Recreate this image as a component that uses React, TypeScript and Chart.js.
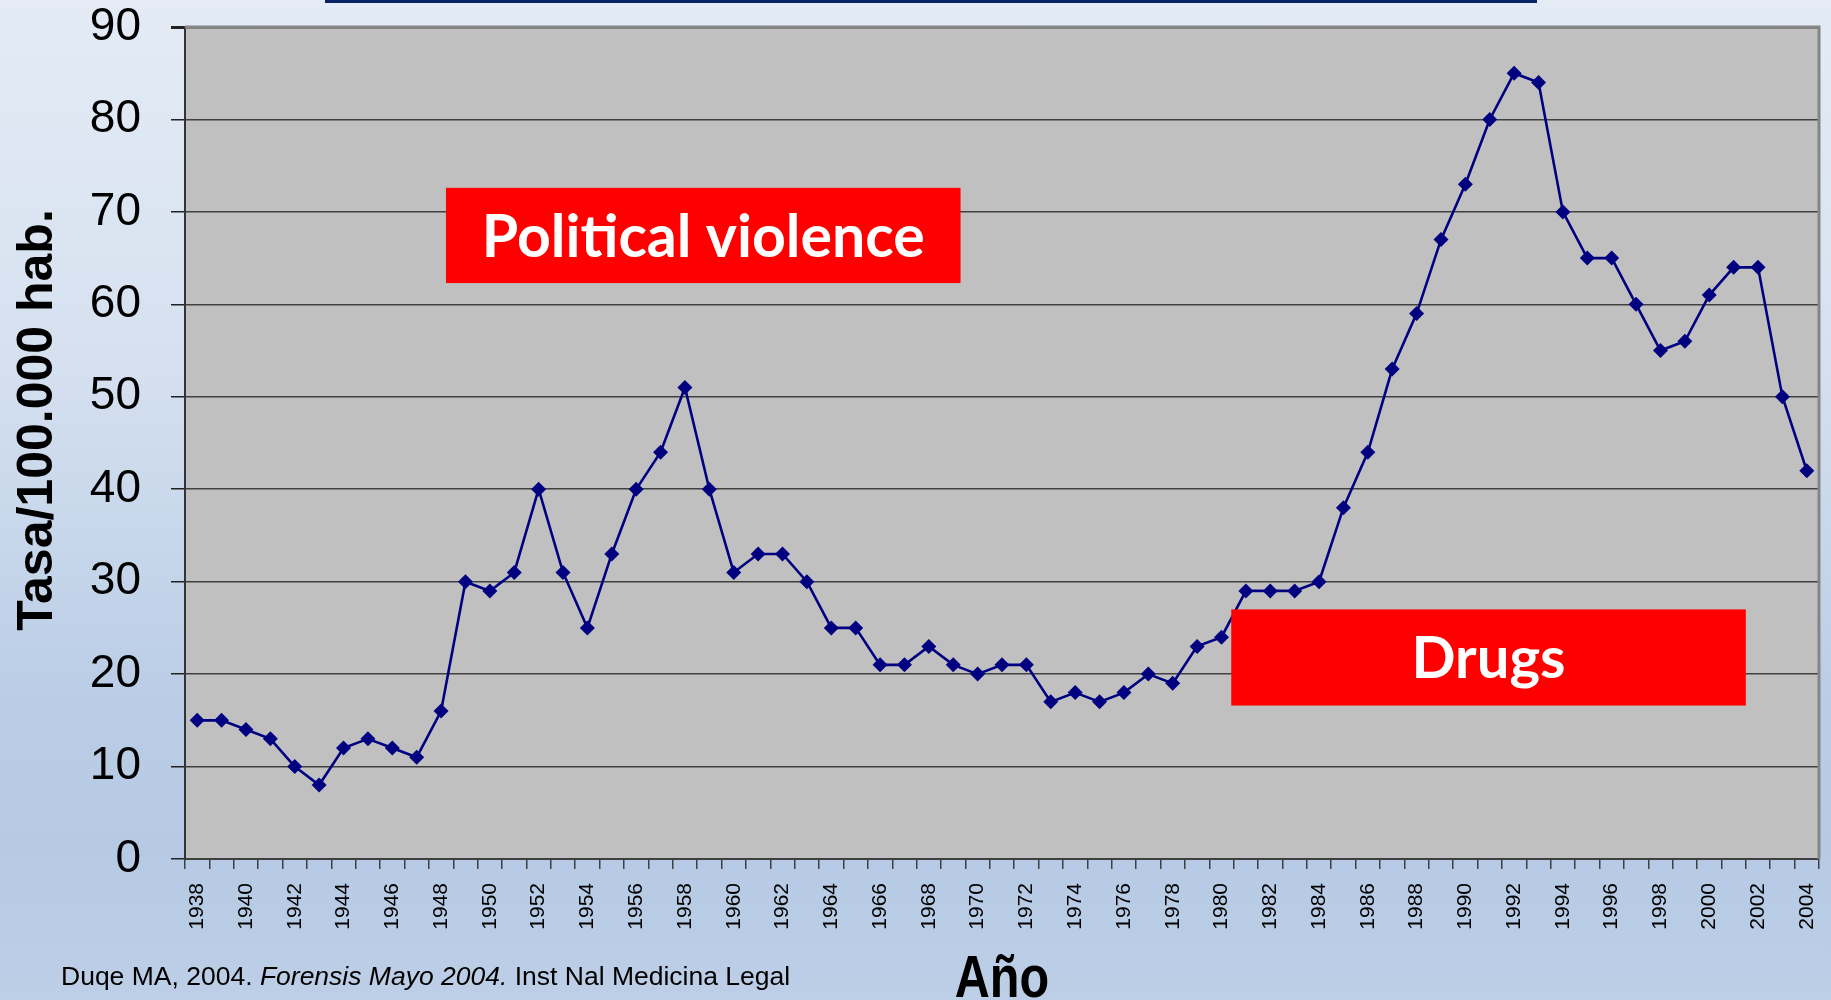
import React, { useEffect, useRef } from "react";
import { Chart, registerables } from "chart.js";

Chart.register(...registerables);

const years = [
  "1938", "1939", "1940", "1941", "1942", "1943", "1944", "1945", "1946", "1947",
  "1948", "1949", "1950", "1951", "1952", "1953", "1954", "1955", "1956", "1957",
  "1958", "1959", "1960", "1961", "1962", "1963", "1964", "1965", "1966", "1967",
  "1968", "1969", "1970", "1971", "1972", "1973", "1974", "1975", "1976", "1977",
  "1978", "1979", "1980", "1981", "1982", "1983", "1984", "1985", "1986", "1987",
  "1988", "1989", "1990", "1991", "1992", "1993", "1994", "1995", "1996", "1997",
  "1998", "1999", "2000", "2001", "2002", "2003", "2004",
];

const rates = [
  15, 15, 14, 13, 10, 8, 12, 13, 12, 11,
  16, 30, 29, 31, 40, 31, 25, 33, 40, 44,
  51, 40, 31, 33, 33, 30, 25, 25, 21, 21,
  23, 21, 20, 21, 21, 17, 18, 17, 18, 20,
  19, 23, 24, 29, 29, 29, 30, 38, 44, 53,
  59, 67, 73, 80, 85, 84, 70, 65, 65, 60,
  55, 56, 61, 64, 64, 50, 42,
];

const yMin = 0;
const yMax = 90;
const yStep = 10;

const yTitle = "Tasa/100.000 hab.";
const xTitle = "Año";
const sourceNote = ["Duqe MA, 2004. ", "Forensis Mayo 2004.", " Inst Nal Medicina Legal"];

const callouts = [
  { text: "Political violence", fromIndex: 10.2, toIndex: 31.3, low: 62.3, high: 72.6, size: 59 },
  { text: "Drugs", fromIndex: 42.4, toIndex: 63.5, low: 16.6, high: 27.0, size: 58 },
];

const decorPlugin = {
  id: "decor",
  beforeDraw(chart: any) {
    const { ctx, chartArea: a } = chart;
    ctx.save();
    ctx.fillStyle = "#C0C0C0";
    ctx.fillRect(a.left, a.top, a.right - a.left, a.bottom - a.top);
    ctx.restore();
  },
  beforeDatasetsDraw(chart: any) {
    const { ctx, chartArea: a } = chart;
    ctx.save();
    ctx.strokeStyle = "#858585";
    ctx.lineWidth = 3;
    ctx.beginPath();
    ctx.moveTo(a.left, a.top);
    ctx.lineTo(a.right, a.top);
    ctx.lineTo(a.right, a.bottom);
    ctx.stroke();
    ctx.restore();
  },
  afterDatasetsDraw(chart: any) {
    const { ctx } = chart;
    const xs = chart.scales.x;
    const ys = chart.scales.y;
    ctx.save();
    for (const c of callouts) {
      const x0 = xs.getPixelForValue(c.fromIndex);
      const x1 = xs.getPixelForValue(c.toIndex);
      const y0 = ys.getPixelForValue(c.high);
      const y1 = ys.getPixelForValue(c.low);
      ctx.fillStyle = "#FF0000";
      ctx.fillRect(x0, y0, x1 - x0, y1 - y0);
      ctx.fillStyle = "#FFFFFF";
      ctx.font = `bold ${c.size}px Lato`;
      ctx.textAlign = "center";
      ctx.textBaseline = "alphabetic";
      ctx.fillText(c.text, (x0 + x1) / 2, (y0 + y1) / 2 + c.size * 0.36);
    }
    ctx.restore();
  },
  afterDraw(chart: any) {
    const { ctx } = chart;
    ctx.save();
    ctx.translate(52, 420);
    ctx.rotate(-Math.PI / 2);
    ctx.font = "bold 50px 'Liberation Sans'";
    ctx.fillStyle = "#000";
    ctx.textAlign = "center";
    ctx.textBaseline = "alphabetic";
    ctx.fillText(yTitle, 0, 0);
    ctx.restore();
  },
};

export default function App() {
  const canvasRef = useRef<HTMLCanvasElement | null>(null);

  useEffect(() => {
    const canvas = canvasRef.current;
    if (!canvas) return;
    const chart = new Chart(canvas, {
      type: "line",
      data: {
        labels: years,
        datasets: [
          {
            data: rates,
            borderColor: "#000080",
            backgroundColor: "#000080",
            borderWidth: 2.6,
            pointStyle: "rectRot",
            pointRadius: 7.5,
            pointBackgroundColor: "#000080",
            pointBorderColor: "#000080",
            pointBorderWidth: 0,
            tension: 0,
          },
        ],
      },
      options: {
        responsive: false,
        animation: false,
        devicePixelRatio: 1,
        layout: { autoPadding: false, padding: { top: 27, right: 12, left: 0, bottom: 0 } },
        plugins: {
          legend: { display: false },
          tooltip: { enabled: false },
          title: { display: false },
        },
        scales: {
          x: {
            type: "category",
            offset: true,
            grid: {
              offset: true,
              drawOnChartArea: false,
              drawTicks: true,
              tickLength: 10,
              color: "#404040",
              lineWidth: 1.5,
            },
            border: { display: true, color: "#404040", width: 2 },
            ticks: {
              autoSkip: false,
              minRotation: 90,
              maxRotation: 90,
              padding: 14,
              color: "#000",
              font: { family: "'Liberation Sans'", size: 21 },
              callback: (_v: any, i: number) => (Number(years[i]) % 2 === 0 ? years[i] : ""),
            },
            afterFit: (s: any) => {
              s.height = 141;
              s.paddingLeft = 0;
              s.paddingRight = 0;
              s.paddingTop = 0;
              s.paddingBottom = 0;
            },
          },
          y: {
            min: yMin,
            max: yMax,
            grid: {
              drawOnChartArea: true,
              drawTicks: true,
              tickLength: 14,
              color: (c: any) => (c.tick && c.tick.value === yMax ? "#858585" : "#404040"),
              lineWidth: (c: any) => (c.tick && c.tick.value === yMax ? 3 : 1.5),
              tickColor: "#222",
            },
            border: { display: true, color: "#333", width: 2 },
            ticks: {
              stepSize: yStep,
              padding: 30,
              color: "#000",
              font: { family: "'Liberation Sans'", size: 46 },
            },
            afterFit: (s: any) => {
              s.width = 185;
              s.paddingLeft = 0;
              s.paddingRight = 0;
              s.paddingTop = 0;
              s.paddingBottom = 0;
            },
          },
        },
      },
      plugins: [decorPlugin],
    });
    return () => chart.destroy();
  }, []);

  return (
    <div
      style={{
        position: "fixed",
        left: 0,
        top: 0,
        width: 1831,
        height: 1000,
        overflow: "hidden",
        background:
          "linear-gradient(180deg, #E4EBF5 0%, #D6E1F0 35%, #BACDE6 70%, #B6CAE5 85%, #BDCFE7 100%)",
      }}
    >
      <div
        style={{
          position: "absolute",
          left: 325,
          top: 0,
          width: 1212,
          height: 3,
          background: "#0B2466",
        }}
      />
      <canvas ref={canvasRef} width={1831} height={1000} style={{ position: "absolute", left: 0, top: 0 }} />
      <div
        style={{
          position: "absolute",
          left: 61,
          top: 963,
          fontFamily: "'Liberation Sans', Arial, sans-serif",
          fontSize: 26.5,
          lineHeight: "26px",
          whiteSpace: "nowrap",
          color: "#000",
        }}
      >
        {sourceNote[0]}
        <i>{sourceNote[1]}</i>
        {sourceNote[2]}
      </div>
      <div
        style={{
          position: "absolute",
          left: 1002,
          top: 947,
          fontFamily: "'Liberation Sans', Arial, sans-serif",
          fontWeight: "bold",
          fontSize: 60,
          lineHeight: "60px",
          whiteSpace: "nowrap",
          color: "#000",
          transform: "translateX(-50%) scaleX(0.81)",
        }}
      >
        {xTitle}
      </div>
    </div>
  );
}
